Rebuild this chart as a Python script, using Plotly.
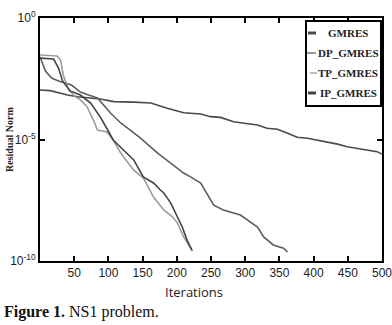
import plotly.graph_objects as go

# ---- data (iteration, log10 residual) ----
gmres_it = [0, 15, 40, 55, 88, 108, 137, 162, 186, 210, 235, 249, 264, 283, 293, 318, 332, 347, 362, 376, 391, 405, 420, 435, 449, 464, 478, 493, 500]
gmres_lg = [-2.96, -2.99, -3.17, -3.24, -3.33, -3.44, -3.46, -3.50, -3.71, -3.90, -3.95, -4.06, -4.09, -4.27, -4.31, -4.40, -4.54, -4.58, -4.74, -4.91, -4.95, -5.02, -5.09, -5.19, -5.30, -5.36, -5.43, -5.50, -5.60]

dp_it = [0, 8, 17, 27, 46, 59, 71, 84, 103, 118, 132, 147, 172, 191, 210, 220, 235, 254, 268, 293, 318, 327, 341, 356, 362]
dp_lg = [-1.60, -2.18, -2.47, -2.59, -2.76, -3.05, -3.17, -3.29, -3.91, -4.32, -4.61, -4.94, -5.56, -5.97, -6.38, -6.54, -6.79, -7.70, -7.90, -8.11, -8.60, -9.01, -9.34, -9.47, -9.63]

tp_it = [0, 25, 30, 34, 42, 52, 59, 69, 78, 84, 98, 107, 118, 137, 151, 166, 181, 194, 201, 210, 223]
tp_lg = [-1.52, -1.56, -1.73, -2.35, -2.96, -3.25, -3.37, -3.66, -4.20, -4.61, -4.69, -5.02, -5.56, -6.26, -6.58, -7.37, -7.90, -8.19, -8.44, -9.01, -9.59]

ip_it = [0, 20, 27, 33, 44, 59, 74, 88, 99, 107, 122, 137, 151, 166, 176, 181, 191, 198, 208, 215, 222]
ip_lg = [-1.65, -1.69, -2.06, -2.59, -3.00, -3.17, -3.50, -4.07, -4.61, -5.02, -5.43, -5.84, -6.54, -6.79, -7.08, -7.20, -7.61, -8.02, -8.60, -9.14, -9.55]

series_names = ["GMRES", "DP_GMRES", "TP_GMRES", "IP_GMRES"]
series_colors = ["#4a4a4a", "#5e5e5e", "#9c9c9c", "#444444"]
series_data = [(gmres_it, gmres_lg), (dp_it, dp_lg), (tp_it, tp_lg), (ip_it, ip_lg)]

x_ticks = [50, 100, 150, 200, 250, 300, 350, 400, 450, 500]
y_tickvals = [1, 1e-5, 1e-10]
y_ticktext = ["10<sup>0</sup>", "10<sup>-5</sup>", "10<sup>-10</sup>"]

W, H = 392, 325
L, R, T, B = 40, 382, 18, 261

def px(x):
    return (x - L) / (R - L)

def py(y):
    return (B - y) / (B - T)

fig = go.Figure()
for name, color, (it, lg) in zip(series_names, series_colors, series_data):
    fig.add_trace(go.Scatter(
        x=it, y=[10 ** v for v in lg], mode="lines", name=name,
        line=dict(color=color, width=1.6),
        showlegend=False))

tickfont = dict(family="Liberation Sans Narrow, Liberation Sans, Arial", size=12, color="#222")

fig.update_xaxes(range=[0, 500], tickvals=x_ticks, ticks="inside", ticklen=5,
                 tickwidth=1.5, tickcolor="black", showline=True, linecolor="black",
                 linewidth=2, mirror="ticks", showgrid=False, zeroline=False,
                 tickfont=tickfont, automargin=False, ticklabeloverflow="allow")
fig.update_yaxes(type="log", range=[-10, 0], tickvals=y_tickvals, ticktext=y_ticktext,
                 ticks="inside", ticklen=5, tickwidth=1.5, tickcolor="black",
                 showline=True, linecolor="black", linewidth=2, mirror="ticks",
                 showgrid=False, zeroline=False, tickfont=tickfont, automargin=False,
                 ticklabeloverflow="allow")

annotations = [
    dict(text="<b>Residual Norm</b>", x=px(9), y=py(140), xref="paper", yref="paper",
         xanchor="center", yanchor="middle", textangle=-90, showarrow=False,
         font=dict(family="Liberation Serif, Times New Roman, serif", size=10, color="#222")),
    dict(text="Iterations", x=px(194), y=py(292), xref="paper", yref="paper",
         xanchor="center", yanchor="middle", showarrow=False,
         font=dict(family="Open Sans, Liberation Sans, sans-serif", size=13, color="#222")),
    dict(text="<b>Figure 1.</b> NS1 problem.", x=px(2), y=py(312), xref="paper", yref="paper",
         xanchor="left", yanchor="middle", showarrow=False,
         font=dict(family="Liberation Serif, Times New Roman, serif", size=16, color="#111")),
]

shapes = [dict(type="rect", xref="paper", yref="paper", x0=px(306), x1=px(381),
               y0=py(106), y1=py(21), line=dict(color="black", width=2),
               fillcolor="white", layer="above")]

leg_y = [33, 53, 73, 93]
leg_sw = [(308, 316, 3), (307, 316, 1.3), (310, 317, 1.3), (308, 316, 3)]
for name, color, yy, (x0, x1, w) in zip(series_names, series_colors, leg_y, leg_sw):
    shapes.append(dict(type="line", xref="paper", yref="paper", x0=px(x0), x1=px(x1),
                       y0=py(yy), y1=py(yy), line=dict(color=color, width=w), layer="above"))
    annotations.append(dict(text="<b>" + name + "</b>", x=px(348), y=py(yy), xref="paper",
                            yref="paper", showarrow=False, xanchor="center", yanchor="middle",
                            font=dict(family="Liberation Serif, Times New Roman, serif",
                                      size=11, color="#222")))

fig.update_layout(width=W, height=H, margin=dict(l=L, r=W - R, t=T, b=H - B),
                  paper_bgcolor="white", plot_bgcolor="white",
                  annotations=annotations, shapes=shapes, showlegend=False)

fig.write_html("out.html", config={"displayModeBar": False},
               post_script="document.body.style.margin='0';document.body.style.overflow='hidden';")
